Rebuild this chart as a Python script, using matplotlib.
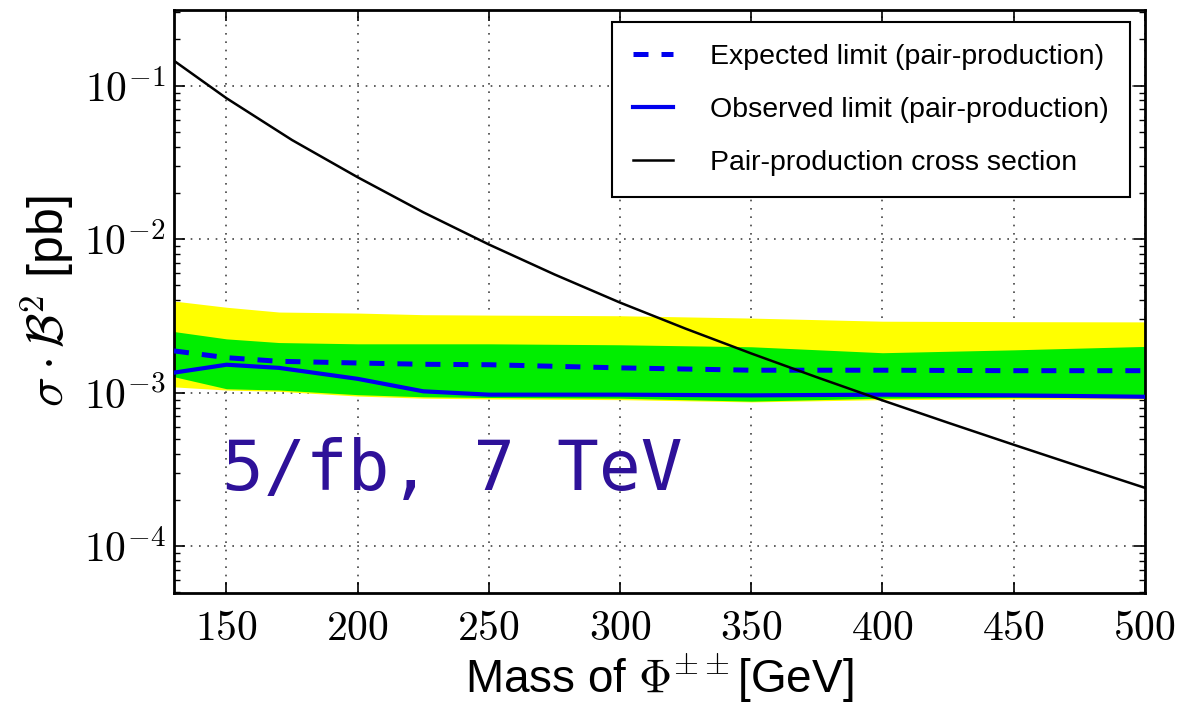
import numpy as np
import matplotlib
matplotlib.use('Agg')
import matplotlib.pyplot as plt
from matplotlib.ticker import LogLocator, FixedLocator, NullFormatter, FuncFormatter

plt.rcParams['mathtext.fontset'] = 'cm'
sans = ['Liberation Sans', 'DejaVu Sans']

# cross section curve
xs_mass = [130, 150, 175, 200, 225, 250, 275, 300, 325, 350, 375, 400, 425, 450, 475, 500]
xs_val = [0.1452, 0.0828, 0.0442, 0.0253, 0.01496, 0.00923, 0.00589, 0.00386, 0.00261,
          0.00180, 0.00126, 0.000891, 0.000637, 0.000458, 0.000331, 0.000240]

# limits
mass = [130, 150, 170, 200, 225, 250, 300, 350, 400, 450, 500]
expected = [0.00187, 0.00169, 0.00160, 0.00156, 0.00153, 0.00152, 0.00145, 0.00140, 0.00140, 0.00139, 0.00139]
observed = [0.00135, 0.00152, 0.00145, 0.00123, 0.00102, 0.00097, 0.00097, 0.00096, 0.00097, 0.00096, 0.00094]
band2_up = [0.00395, 0.00360, 0.00335, 0.00330, 0.00322, 0.00320, 0.00317, 0.00306, 0.00292, 0.00290, 0.00289]
band1_up = [0.00250, 0.00224, 0.00212, 0.00208, 0.00208, 0.00208, 0.00205, 0.00199, 0.00182, 0.00190, 0.00200]
band1_dn = [0.00127, 0.00106, 0.00104, 0.00097, 0.00094, 0.00093, 0.00092, 0.00088, 0.00092, 0.00093, 0.00093]
band2_dn = [0.00109, 0.00104, 0.00102, 0.00095, 0.00092, 0.00091, 0.00090, 0.00087, 0.00090, 0.00091, 0.00091]

xticks = [150, 200, 250, 300, 350, 400, 450, 500]

fig = plt.figure(figsize=(12, 7.28), dpi=100)
ax = fig.add_axes([0.145, 0.1854, 0.809, 0.8006])

ax.fill_between(mass, band2_dn, band2_up, color='#ffff00', lw=0, zorder=1)
ax.fill_between(mass, band1_dn, band1_up, color='#00ee00', lw=0, zorder=2)
ax.plot(mass, expected, color='#0000ee', lw=3.6, ls=(0, (3, 2.6)), zorder=4,
        label='Expected limit (pair-production)')
ax.plot(mass, observed, color='#0000ee', lw=3.0, zorder=4,
        label='Observed limit (pair-production)')
ax.plot(xs_mass, xs_val, color='black', lw=1.8, zorder=5,
        label='Pair-production cross section')

ax.set_yscale('log')
ax.set_xlim(130, 500)
ax.set_ylim(4.95e-5, 0.31)

ax.xaxis.set_major_locator(FixedLocator(xticks))
ax.set_xticklabels(['$%d$' % t for t in xticks])
ax.yaxis.set_major_locator(LogLocator(base=10, numticks=10))
ax.yaxis.set_major_formatter(FuncFormatter(lambda v, p: '$10^{%d}$' % round(np.log10(v))))
ax.yaxis.set_minor_locator(LogLocator(base=10, subs=np.arange(2, 10), numticks=10))
ax.yaxis.set_minor_formatter(NullFormatter())

ax.tick_params(which='both', direction='in', top=True, right=True)
ax.tick_params(axis='x', labelsize=30, pad=10)
ax.tick_params(axis='y', labelsize=30, pad=6)
ax.tick_params(which='major', length=8, width=1.2)
ax.tick_params(which='minor', length=4, width=1)
for s in ax.spines.values():
    s.set_linewidth(2)

ax.grid(True, which='major', ls=(0, (1, 4)), color='#444444', lw=1.2, zorder=0)
ax.set_axisbelow(True)

ax.set_xlabel(r'Mass of $\Phi^{\pm\pm}$[GeV]', family=sans, fontsize=33, labelpad=2)
ax.set_ylabel(r'$\sigma \cdot \mathcal{B}^2$ [pb]', family=sans, fontsize=36, labelpad=6)

leg = ax.legend(loc='upper right', bbox_to_anchor=(0.9846, 0.979), borderaxespad=0,
                fancybox=False, edgecolor='black', framealpha=1,
                prop={'family': sans, 'size': 20.5},
                handlelength=1.4, handletextpad=1.3, labelspacing=0.95,
                borderpad=0.75)
leg.get_frame().set_linewidth(1.5)
leg.set_zorder(10)

ax.text(0.049, 0.177, '5/fb, 7 TeV', transform=ax.transAxes, color='#2e1199',
        fontsize=50, family='DejaVu Sans Mono', zorder=6)

fig.savefig('out.png', dpi=100)
